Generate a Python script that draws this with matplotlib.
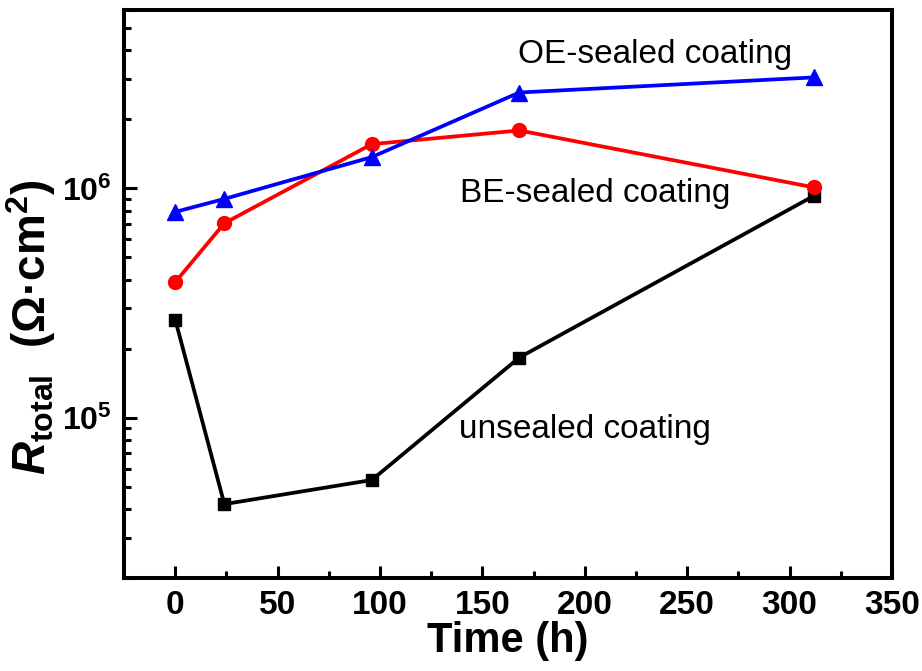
import numpy as np
import matplotlib
matplotlib.use('Agg')
import matplotlib.pyplot as plt
from matplotlib import ticker

plt.rcParams['font.family'] = ['Liberation Sans', 'DejaVu Sans']
plt.rcParams['mathtext.fontset'] = 'custom'
plt.rcParams['mathtext.rm'] = 'Liberation Sans:bold'
plt.rcParams['mathtext.bf'] = 'Liberation Sans:bold'
plt.rcParams['mathtext.it'] = 'Liberation Sans:italic:bold'

# immersion time (h) and total resistance (ohm cm^2)
time_h = [0, 24, 96, 168, 312]
r_unsealed = [2.68e5, 4.2e4, 5.35e4, 1.83e5, 9.3e5]
r_be = [3.9e5, 7.05e5, 1.56e6, 1.79e6, 1.01e6]
r_oe = [7.9e5, 9.0e5, 1.37e6, 2.62e6, 3.05e6]

fig = plt.figure(figsize=(9.22, 6.71), dpi=100)
ax = fig.add_axes([0.1345, 0.1386, 0.833, 0.8465])

ax.plot(time_h, r_unsealed, '-s', color='black', lw=2.7, ms=9)
ax.plot(time_h, r_be, '-o', color='red', lw=2.7, ms=10)
ax.plot(time_h, r_oe, '-^', color='blue', lw=2.7, ms=11)

ax.set_yscale('log')
ax.set_xlim(-25, 350)
ax.set_ylim(2e4, 6e6)
ax.xaxis.set_major_locator(ticker.MultipleLocator(50))
ax.xaxis.set_minor_locator(ticker.MultipleLocator(25))
ax.yaxis.set_major_locator(ticker.LogLocator(base=10))
ax.yaxis.set_minor_locator(ticker.LogLocator(base=10, subs=np.arange(2, 10)))
ax.yaxis.set_minor_formatter(ticker.NullFormatter())
ax.yaxis.set_major_formatter(ticker.FuncFormatter(lambda v, p: r'$\mathbf{10^{%d}}$' % round(np.log10(v))))

for s in ax.spines.values():
    s.set_linewidth(2.9)
ax.tick_params(which='both', direction='in', top=False, right=False, width=2.2)
ax.tick_params(which='major', length=9, labelsize=24, pad=9)
ax.tick_params(axis='y', which='major', labelsize=23)
ax.tick_params(which='minor', length=5)
for lab in ax.get_xticklabels() + ax.get_yticklabels():
    lab.set_fontweight('bold')

ax.set_xlabel('Time (h)', fontsize=30, fontweight='bold', labelpad=0)
ax.set_ylabel(r'$R_{\mathbf{total}}$  (Ω·cm$^{\mathbf{2}}$)', fontsize=33, fontweight='bold')
ax.yaxis.set_label_coords(-0.086, 0.442)

ax.text(234.5, 3.53e6, 'OE-sealed coating', fontsize=24, ha='center', va='baseline')
ax.text(205, 8.73e5, 'BE-sealed coating', fontsize=24, ha='center', va='baseline')
ax.text(200, 8.16e4, 'unsealed coating', fontsize=24, ha='center', va='baseline')

fig.savefig('out.png', dpi=100)
